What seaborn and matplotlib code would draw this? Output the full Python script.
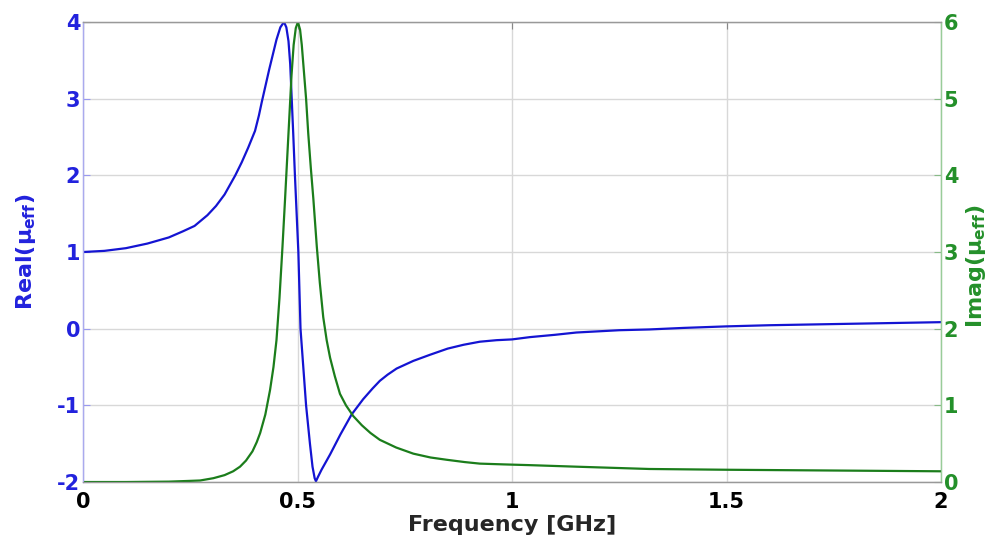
import numpy as np
import pandas as pd
import matplotlib
matplotlib.use("Agg")
import matplotlib.pyplot as plt
import seaborn as sns

# values
freq_real = [0.0, 0.05, 0.1, 0.15, 0.2, 0.233, 0.26, 0.29, 0.31, 0.33, 0.355, 0.37,
             0.385, 0.401, 0.41, 0.4165, 0.434, 0.451, 0.46, 0.4685, 0.474, 0.479,
             0.483, 0.4865, 0.49, 0.494, 0.498, 0.502, 0.5045, 0.507, 0.5135, 0.52,
             0.529, 0.535, 0.54, 0.543, 0.548, 0.556, 0.566, 0.576, 0.6, 0.626, 0.653,
             0.675, 0.692, 0.71, 0.731, 0.77, 0.809, 0.85, 0.887, 0.925, 0.964, 1.0,
             1.042, 1.1, 1.15, 1.25, 1.32, 1.4, 1.5, 1.6, 1.75, 1.9, 2.0]
real_mu = [1.0, 1.015, 1.05, 1.11, 1.19, 1.27, 1.34, 1.48, 1.6, 1.75, 2.0, 2.17,
           2.36, 2.58, 2.78, 2.95, 3.38, 3.77, 3.93, 4.0, 3.93, 3.75,
           3.45, 3.0, 2.55, 2.0, 1.5, 1.0, 0.5, 0.0, -0.5, -1.0,
           -1.5, -1.8, -1.95, -1.99, -1.93, -1.84, -1.74, -1.64, -1.38, -1.12, -0.92,
           -0.78, -0.68, -0.6, -0.52, -0.42, -0.34, -0.26, -0.21, -0.17, -0.15, -0.14,
           -0.11, -0.08, -0.05, -0.02, -0.01, 0.01, 0.03, 0.045, 0.06, 0.075, 0.085]

freq_imag = [0.0, 0.1, 0.2, 0.25, 0.273, 0.304, 0.33, 0.35, 0.366, 0.38, 0.395,
             0.405, 0.413, 0.425, 0.436, 0.444, 0.451, 0.458, 0.465, 0.471, 0.479,
             0.486, 0.491, 0.496, 0.501, 0.506, 0.51, 0.514, 0.52, 0.525, 0.531,
             0.537, 0.545, 0.552, 0.56, 0.568, 0.576, 0.587, 0.599, 0.613, 0.63,
             0.65, 0.67, 0.692, 0.73, 0.77, 0.81, 0.848, 0.89, 0.925, 0.98, 1.042,
             1.15, 1.32, 1.5, 1.75, 2.0]
imag_mu = [0.0, 0.0, 0.005, 0.015, 0.02, 0.05, 0.09, 0.14, 0.2, 0.28, 0.4,
           0.52, 0.64, 0.88, 1.2, 1.5, 1.85, 2.4, 3.07, 3.69, 4.55,
           5.3, 5.7, 5.92, 6.0, 5.9, 5.7, 5.42, 5.0, 4.55, 4.1,
           3.69, 3.07, 2.6, 2.15, 1.85, 1.62, 1.38, 1.15, 1.0, 0.86,
           0.74, 0.64, 0.55, 0.45, 0.37, 0.32, 0.29, 0.26, 0.24, 0.23, 0.22,
           0.2, 0.17, 0.16, 0.15, 0.14]

xticks = [0, 0.5, 1, 1.5, 2]
xtick_labels = ["0", "0.5", "1", "1.5", "2"]
left_ticks = [-2, -1, 0, 1, 2, 3, 4]
right_ticks = [0, 1, 2, 3, 4, 5, 6]

blue = "#1414d2"
green = "#1b7d1b"
tick_blue = "#2222dd"
tick_green = "#24902a"

sns.set_theme(style="white")
plt.rcParams["font.family"] = ["DejaVu Sans"]
plt.rcParams["axes.unicode_minus"] = False
plt.rcParams["mathtext.fontset"] = "custom"
plt.rcParams["mathtext.rm"] = "DejaVu Sans:bold"
plt.rcParams["mathtext.it"] = "DejaVu Sans:bold"
plt.rcParams["mathtext.bf"] = "DejaVu Sans:bold"

df_real = pd.DataFrame({"freq": freq_real, "val": real_mu})
df_imag = pd.DataFrame({"freq": freq_imag, "val": imag_mu})

fig = plt.figure(figsize=(10, 5.43), dpi=100)
ax = fig.add_axes([0.083, 0.1123, 0.858, 0.8472])
ax2 = ax.twinx()

sns.lineplot(data=df_real, x="freq", y="val", ax=ax, color=blue, linewidth=1.6)
sns.lineplot(data=df_imag, x="freq", y="val", ax=ax2, color=green, linewidth=1.6)

ax.set_xlim(0, 2)
ax.set_ylim(-2, 4)
ax2.set_ylim(0, 6)

tick_fs = 15
ax.set_xticks(xticks)
ax.set_xticklabels(xtick_labels, fontsize=tick_fs, fontweight="bold", color="black")
ax.set_yticks(left_ticks)
ax.set_yticklabels([str(t) for t in left_ticks], fontsize=tick_fs, fontweight="bold", color=tick_blue)
ax2.set_yticks(right_ticks)
ax2.set_yticklabels([str(t) for t in right_ticks], fontsize=tick_fs, fontweight="bold", color=tick_green)

ax.grid(True, color="#d8d8d8", linewidth=1.0)
ax.tick_params(axis="both", direction="in", length=5, width=0.8, pad=2)
ax.tick_params(axis="x", colors="#888888", labelcolor="black", pad=7, top=True)
ax.tick_params(axis="y", colors="#9999ee", labelcolor=tick_blue)
ax2.tick_params(axis="y", direction="in", length=5, width=0.8, pad=2,
                colors="#88bb88", labelcolor=tick_green)

ax.set_xlabel("Frequency [GHz]", fontsize=16, fontweight="bold", labelpad=2)
ax.set_ylabel(r"Real($\mu_{eff}$)", fontsize=16, fontweight="bold", color=tick_blue, labelpad=14)
ax2.set_ylabel(r"Imag($\mu_{eff}$)", fontsize=16, fontweight="bold", color=tick_green, labelpad=4)
ax2.yaxis.label.set_y(0.47)

for a in (ax, ax2):
    a.spines["top"].set_color("#999999")
    a.spines["bottom"].set_color("#999999")
    a.spines["left"].set_color("#aaaaee")
    a.spines["right"].set_color("#99cc99")
    for s in a.spines.values():
        s.set_linewidth(0.9)

fig.savefig("out.png", dpi=100)
